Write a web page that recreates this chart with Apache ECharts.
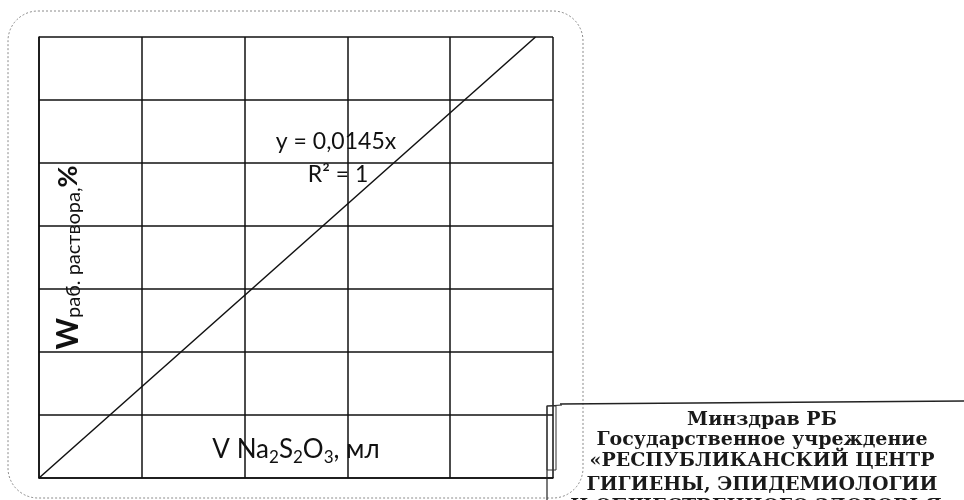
<!DOCTYPE html>
<html>
<head>
<meta charset="utf-8">
<script src="https://cdn.jsdelivr.net/npm/echarts@6/dist/echarts.min.js"></script>
<style>
  html, body { margin: 0; padding: 0; background: #fff; }
  #chart { width: 964px; height: 500px; }
</style>
</head>
<body>
<div id="chart"></div>
<script>
// калибровочная прямая (линия тренда)
const trendPoints = [[0, 0], [4.83, 0.07]];
const xRange = [0, 5, 1];       // min, max, шаг (мл)
const yRange = [0, 0.07, 0.01]; // min, max, шаг (%)
const equationText = ['y = 0,0145x', 'R² = 1'];
const stampLines = [
  'Минздрав РБ',
  'Государственное учреждение',
  '«РЕСПУБЛИКАНСКИЙ ЦЕНТР',
  'ГИГИЕНЫ, ЭПИДЕМИОЛОГИИ',
  'И ОБЩЕСТВЕННОГО ЗДОРОВЬЯ»'
];
const stampLineY = [420, 440, 461, 485, 507];

const chart = echarts.init(document.getElementById('chart'), null, { renderer: 'canvas' });

const gridLine = { show: true, lineStyle: { color: '#111', width: 1.5 } };
const FONT = 'Lato, "Open Sans", sans-serif';

chart.setOption({
  backgroundColor: '#fff',
  animation: false,
  grid: { left: 39, top: 37, width: 514, height: 441 },
  xAxis: {
    type: 'value',
    min: xRange[0], max: xRange[1], interval: xRange[2],
    axisLine: { show: true, onZero: false, lineStyle: { color: '#111', width: 1.5 } },
    axisTick: { show: false },
    axisLabel: { show: false },
    splitLine: gridLine,
    name: '{m|V Na}{s|2}{m|S}{s|2}{m|O}{s|3}{m|, мл}',
    nameLocation: 'middle',
    nameGap: -44,
    nameTextStyle: {
      fontFamily: FONT,
      verticalAlign: 'top',
      rich: {
        m: { fontSize: 26, fontFamily: FONT, color: '#111', lineHeight: 32, verticalAlign: 'middle' },
        s: { fontSize: 17, fontFamily: FONT, color: '#111', lineHeight: 12, verticalAlign: 'bottom' }
      }
    }
  },
  yAxis: {
    type: 'value',
    min: yRange[0], max: yRange[1], interval: yRange[2],
    axisLine: { show: true, onZero: false, lineStyle: { color: '#111', width: 1.5 } },
    axisTick: { show: false },
    axisLabel: { show: false },
    splitLine: gridLine,
    name: '{w|W}{s|раб. раствора,}{p|%}',
    nameLocation: 'middle',
    nameRotate: 90,
    nameGap: -29,
    nameTextStyle: {
      align: 'center',
      verticalAlign: 'middle',
      rich: {
        w: { fontSize: 30, fontWeight: 'bold', fontFamily: FONT, color: '#111', lineHeight: 32, verticalAlign: 'middle' },
        s: { fontSize: 20, fontFamily: FONT, color: '#111', lineHeight: 12, verticalAlign: 'bottom' },
        p: { fontSize: 27, fontWeight: 'bold', fontFamily: FONT, color: '#111', lineHeight: 32, verticalAlign: 'middle' }
      }
    }
  },
  series: [{
    type: 'line',
    data: trendPoints,
    symbol: 'none',
    lineStyle: { color: '#111', width: 1.5 },
    z: 5
  }],
  graphic: [
    // рамка области диаграммы
    {
      type: 'rect', z: -10,
      shape: { x: 8, y: 11, width: 575, height: 487, r: 30 },
      style: { fill: 'none', stroke: '#8a8a8a', lineWidth: 1, lineDash: [2, 2] }
    },
    // подпись уравнения тренда
    {
      type: 'text', z: 10,
      style: { text: equationText[0], x: 336, y: 142, align: 'center', verticalAlign: 'middle',
        font: '23px ' + FONT, fill: '#111' }
    },
    {
      type: 'text', z: 10,
      style: { text: equationText[1], x: 338, y: 175, align: 'center', verticalAlign: 'middle',
        font: '23px ' + FONT, fill: '#111' }
    },
    // штамп
    {
      type: 'polyline', z: 20,
      shape: { points: [[560, 404], [964, 401]] },
      style: { stroke: '#222', lineWidth: 1.5 }
    },
    {
      type: 'polyline', z: 20,
      shape: { points: [[547, 500], [547, 406], [562, 405]] },
      style: { fill: 'none', stroke: '#222', lineWidth: 1.2 }
    },
    {
      type: 'rect', z: 21,
      shape: { x: 547, y: 406, width: 9, height: 64 },
      style: { fill: 'none', stroke: '#333', lineWidth: 1 }
    },
    ...stampLines.map((t, i) => ({
      type: 'text', z: 22,
      style: {
        text: t, x: 762, y: stampLineY[i],
        align: 'center', verticalAlign: 'middle',
        font: 'bold 19px "DejaVu Serif", "Liberation Serif", serif',
        fill: '#1a1a1a'
      }
    }))
  ]
});
</script>
</body>
</html>
